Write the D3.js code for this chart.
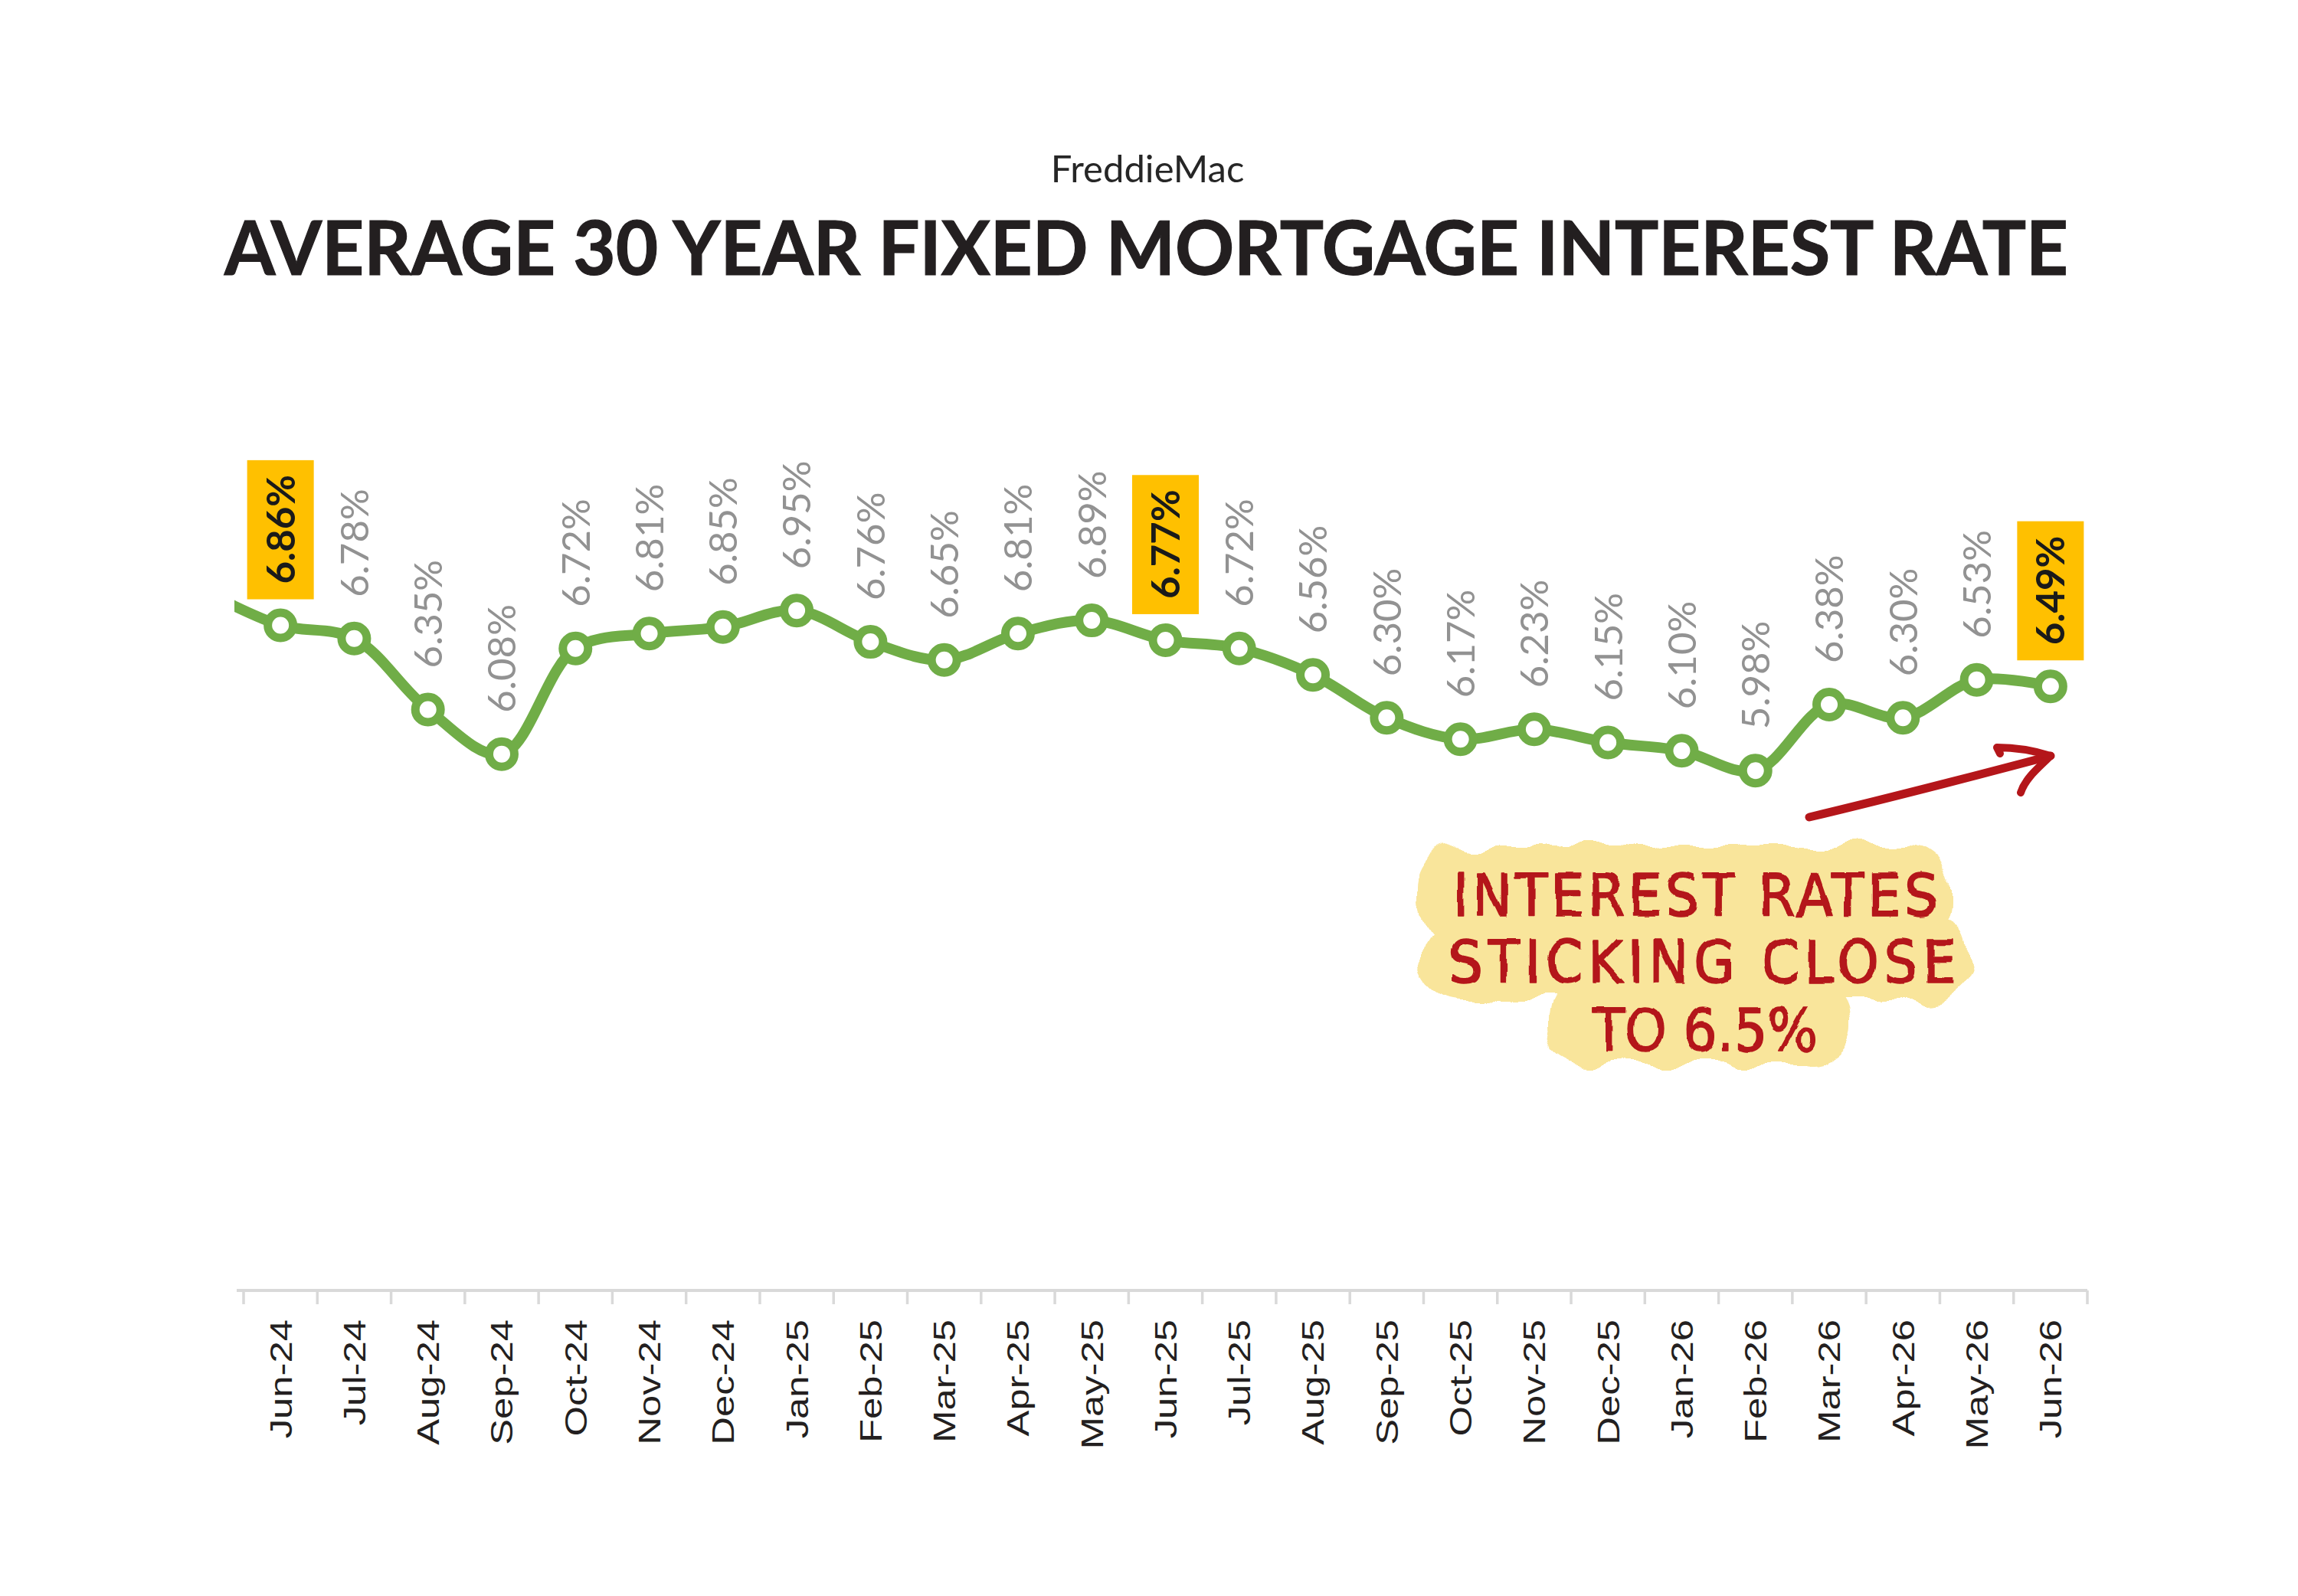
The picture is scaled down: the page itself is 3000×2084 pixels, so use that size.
<!DOCTYPE html>
<html>
<head>
<meta charset="utf-8">
<script src="https://cdn.jsdelivr.net/npm/d3@7"></script>
<style>
  html, body { margin: 0; padding: 0; background: #ffffff; }
  svg { display: block; }
</style>
</head>
<body>
<script>
// ---------------- DATA ----------------
const categories = ["Jun-24","Jul-24","Aug-24","Sep-24","Oct-24","Nov-24","Dec-24","Jan-25","Feb-25","Mar-25","Apr-25","May-25","Jun-25","Jul-25","Aug-25","Sep-25","Oct-25","Nov-25","Dec-25","Jan-26","Feb-26","Mar-26","Apr-26","May-26","Jun-26"];
const rates = [6.86, 6.78, 6.35, 6.08, 6.72, 6.81, 6.85, 6.95, 6.76, 6.65, 6.81, 6.89, 6.77, 6.72, 6.56, 6.30, 6.17, 6.23, 6.15, 6.10, 5.98, 6.38, 6.30, 6.53, 6.49];
const highlighted = ["Jun-24", "Jun-25", "Jun-26"];
// previous month, only visible as the clipped line entering the plot
const leadInCategory = ["May-24"];
const leadInRate = [7.06];
const subtitleText = "FreddieMac";
const titleText = "AVERAGE 30 YEAR FIXED MORTGAGE INTEREST RATE";
const noteLines = ["INTEREST RATES", "STICKING CLOSE", "TO 6.5%"];
const yDomain = [2.83, 7.63];

// ---------------- LAYOUT ----------------
const W = 3000, H = 2084;
const svg = d3.select("body").append("svg").attr("width", W).attr("height", H);
svg.append("rect").attr("width", W).attr("height", H).attr("fill", "#ffffff");

const defs = svg.append("defs");
defs.append("clipPath").attr("id", "plotClip")
  .append("rect").attr("x", 306).attr("y", 0).attr("width", 2600).attr("height", H);

const bumpy = defs.append("filter").attr("id", "bumpy")
  .attr("x", "-10%").attr("y", "-20%").attr("width", "120%").attr("height", "140%");
bumpy.append("feTurbulence").attr("type", "fractalNoise").attr("baseFrequency", "0.02")
  .attr("numOctaves", 1).attr("seed", 11).attr("result", "noise");
bumpy.append("feDisplacementMap").attr("in", "SourceGraphic").attr("in2", "noise")
  .attr("scale", 40).attr("xChannelSelector", "R").attr("yChannelSelector", "G");

const wobble = defs.append("filter").attr("id", "wobble")
  .attr("x", "-5%").attr("y", "-20%").attr("width", "110%").attr("height", "140%");
wobble.append("feTurbulence").attr("type", "fractalNoise").attr("baseFrequency", "0.05")
  .attr("numOctaves", 1).attr("seed", 3).attr("result", "noise");
wobble.append("feDisplacementMap").attr("in", "SourceGraphic").attr("in2", "noise")
  .attr("scale", 5).attr("xChannelSelector", "R").attr("yChannelSelector", "G");

// ---------------- TITLES ----------------
svg.append("text")
  .attr("x", 1498).attr("y", 238)
  .attr("text-anchor", "middle")
  .attr("font-family", "Lato, 'Open Sans', sans-serif")
  .attr("font-size", 49)
  .attr("fill", "#262626")
  .text(subtitleText);

svg.append("text")
  .attr("x", 293).attr("y", 359)
  .attr("font-family", "Lato, 'Open Sans', sans-serif")
  .attr("font-weight", 700)
  .attr("font-size", 97)
  .attr("fill", "#231f20")
  .attr("stroke", "#231f20")
  .attr("stroke-width", 1.2)
  .attr("textLength", 2407)
  .attr("lengthAdjust", "spacingAndGlyphs")
  .text(titleText);

// ---------------- SCALES ----------------
const x = d3.scaleBand().domain(categories).range([318, 2725]).padding(0);
const bw = x.bandwidth();
const y = d3.scaleLinear().domain(yDomain).range([1685, 650.6]);
const cx = c => x(c) + bw / 2;

// ---------------- X AXIS ----------------
const axisY = y(yDomain[0]);
const axis = svg.append("g");
axis.append("line")
  .attr("x1", 309).attr("x2", x.range()[1])
  .attr("y1", axisY).attr("y2", axisY)
  .attr("stroke", "#d9d9d9").attr("stroke-width", 4);
const tickPos = categories.map(c => x(c)).concat([x.range()[1]]);
axis.selectAll("line.tick").data(tickPos).join("line")
  .attr("class", "tick")
  .attr("x1", d => d).attr("x2", d => d)
  .attr("y1", axisY).attr("y2", axisY + 18)
  .attr("stroke", "#d9d9d9").attr("stroke-width", 3.5);
axis.selectAll("text").data(categories).join("text")
  .attr("transform", d => `translate(${cx(d)},1723) rotate(-90) scale(1.27,1)`)
  .attr("text-anchor", "end")
  .attr("dy", "0.36em")
  .attr("font-family", "'Liberation Sans', Arial, sans-serif")
  .attr("font-size", 40)
  .attr("fill", "#231f20")
  .text(d => d);

// ---------------- LINE ----------------
const pts = [{ x: cx(categories[0]) - bw, y: y(leadInRate[0]), c: leadInCategory[0] }]
  .concat(categories.map((c, i) => ({ x: cx(c), y: y(rates[i]), c: c, v: rates[i] })));

const lineGen = d3.line().x(d => d.x).y(d => d.y).curve(d3.curveCatmullRom.alpha(0.5));
svg.append("g").attr("clip-path", "url(#plotClip)")
  .append("path")
  .attr("d", lineGen(pts))
  .attr("fill", "none")
  .attr("stroke", "#70ad47")
  .attr("stroke-width", 14)
  .attr("stroke-linejoin", "round");

const dataPts = pts.slice(1);
svg.append("g").selectAll("circle").data(dataPts).join("circle")
  .attr("cx", d => d.x).attr("cy", d => d.y)
  .attr("r", 16.5)
  .attr("fill", "#ffffff")
  .attr("stroke", "#70ad47")
  .attr("stroke-width", 11);

// ---------------- DATA LABELS ----------------
const lab = svg.append("g").selectAll("g").data(dataPts).join("g")
  .attr("transform", d => `translate(${d.x},${d.y - 54}) rotate(-90)`);
lab.each(function (d) {
  const g = d3.select(this);
  const hi = highlighted.includes(d.c);
  const rect = hi ? g.append("rect") : null;
  const t = g.append("text")
    .attr("x", 0).attr("y", 0)
    .attr("dy", "0.36em")
    .attr("font-family", "Lato, 'Open Sans', sans-serif")
    .attr("font-size", 51)
    .attr("font-weight", hi ? 700 : 400)
    .attr("fill", hi ? "#1a1a1a" : "#929292")
    .text(d3.format(".2f")(d.v) + "%");
  if (hi) {
    const L = t.node().getComputedTextLength();
    rect.attr("x", -20).attr("y", -43.5).attr("width", L + 39).attr("height", 87)
      .attr("fill", "#ffc000");
  }
});

// ---------------- ANNOTATION ----------------
const red = "#b4161a";
const note = svg.append("g");
const blob = note.append("g").attr("filter", "url(#bumpy)").attr("fill", "#f9e59b");
blob.append("rect").attr("x", 1852).attr("y", 1104).attr("width", 694).attr("height", 130).attr("rx", 55);
blob.append("rect").attr("x", 1856).attr("y", 1196).attr("width", 716).attr("height", 108).attr("rx", 50);
blob.append("rect").attr("x", 2020).attr("y", 1280).attr("width", 398).attr("height", 110).attr("rx", 50);

const noteText = note.append("g").attr("filter", "url(#wobble)");
const noteSpec = [
  { x: 1897, y: 1196, w: 633, fs: 77 },
  { x: 1891, y: 1283, w: 663, fs: 77 },
  { x: 2079, y: 1372, w: 294, fs: 77 }
];
noteText.selectAll("text").data(noteLines).join("text")
  .attr("x", (d, i) => noteSpec[i].x)
  .attr("y", (d, i) => noteSpec[i].y)
  .attr("textLength", (d, i) => noteSpec[i].w)
  .attr("lengthAdjust", "spacing")
  .attr("font-family", "'Liberation Sans Narrow', 'DejaVu Sans Condensed', 'Liberation Sans', sans-serif")
  .attr("font-size", (d, i) => noteSpec[i].fs)
  .attr("fill", red)
  .attr("stroke", red)
  .attr("stroke-width", 1.5)
  .attr("stroke-linejoin", "round")
  .text(d => d);

const arrow = note.append("g")
  .attr("fill", "none").attr("stroke", red)
  .attr("stroke-linecap", "round").attr("stroke-linejoin", "round");
arrow.append("path").attr("stroke-width", 11)
  .attr("d", "M2362,1067 C2450,1046 2560,1018 2677,987");
arrow.append("path").attr("stroke-width", 10)
  .attr("d", "M2677,987 C2652,979 2628,976 2607,976 L2611,984");
arrow.append("path").attr("stroke-width", 10)
  .attr("d", "M2677,987 C2662,1002 2644,1016 2638,1035");
</script>
</body>
</html>
